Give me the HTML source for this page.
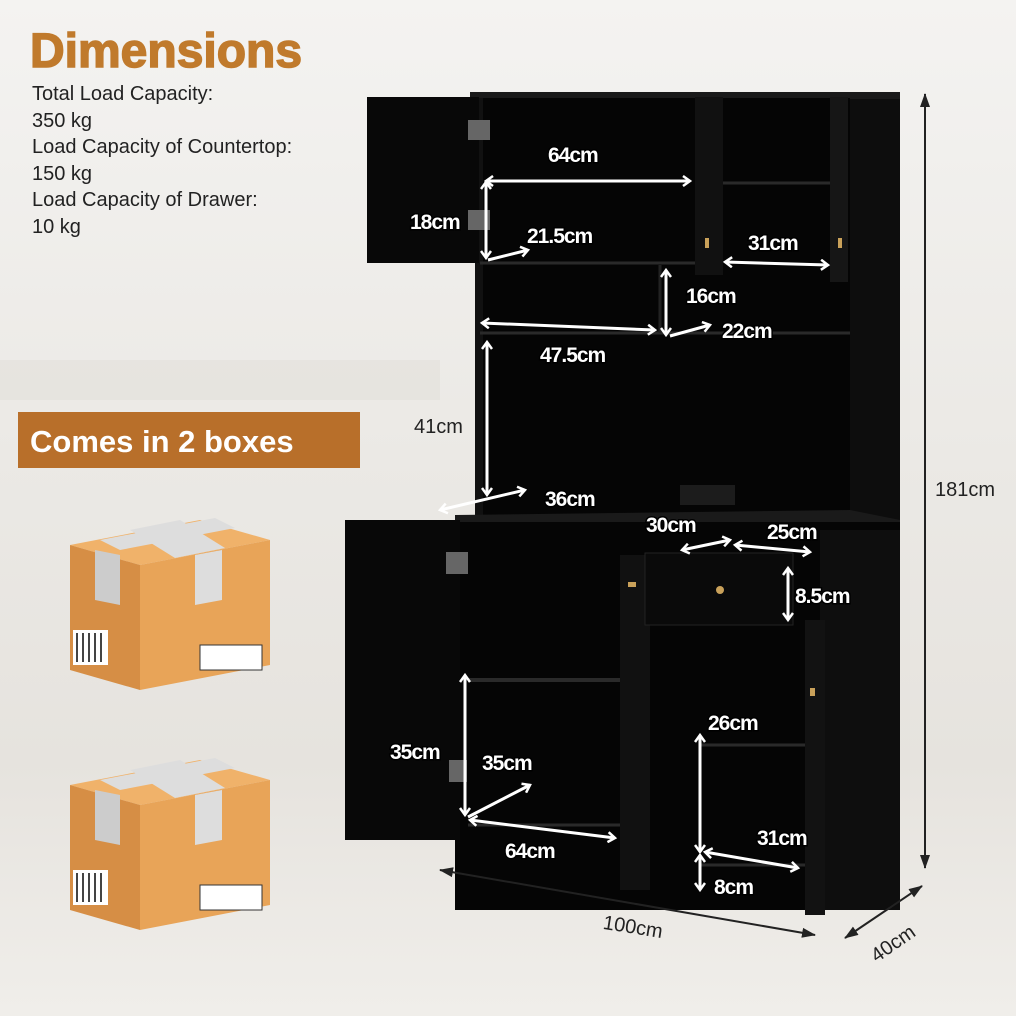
<!DOCTYPE html>
<html><head><meta charset="utf-8"><style>
html,body{margin:0;padding:0;background:#f3f2f0}
svg{display:block}
.l{font-family:"Liberation Sans",sans-serif;font-weight:bold;font-size:21px;fill:#fff;stroke:#000;stroke-width:3px;paint-order:stroke;letter-spacing:-1px}
.d{font-family:"Liberation Sans",sans-serif;font-size:20px;fill:#222}
.a{stroke:#fff;stroke-width:3;fill:none}
.k{stroke:#222;stroke-width:2;fill:none}
</style></head><body>
<svg width="1016" height="1016" viewBox="0 0 1016 1016">
<defs>
<linearGradient id="bg" x1="0" y1="0" x2="0" y2="1"><stop offset="0" stop-color="#f4f3f1"/><stop offset="0.45" stop-color="#ebe9e5"/><stop offset="0.75" stop-color="#e6e3de"/><stop offset="1" stop-color="#f0eeea"/></linearGradient>
<marker id="m" markerUnits="userSpaceOnUse" markerWidth="12" markerHeight="12" refX="9" refY="6" orient="auto-start-reverse"><path d="M2,1L9,6L2,11" fill="none" stroke="#fff" stroke-width="2.5"/></marker>
<marker id="mk" markerUnits="userSpaceOnUse" markerWidth="14" markerHeight="14" refX="13" refY="7" orient="auto-start-reverse"><path d="M0,2L14,7L0,12Z" fill="#222"/></marker>
</defs>
<rect width="1016" height="1016" fill="url(#bg)"/>
<rect x="0" y="360" width="440" height="40" fill="#e2dfda" opacity="0.6"/>
<!-- title -->
<text x="30" y="67" font-family="Liberation Sans,sans-serif" font-weight="bold" font-size="48" fill="#c07a2c" stroke="#c07a2c" stroke-width="1.5">Dimensions</text>
<text class="d" x="32" y="100">Total Load Capacity:</text>
<text class="d" x="32" y="127">350 kg</text>
<text class="d" x="32" y="153">Load Capacity of Countertop:</text>
<text class="d" x="32" y="180">150 kg</text>
<text class="d" x="32" y="206">Load Capacity of Drawer:</text>
<text class="d" x="32" y="233">10 kg</text>
<rect x="18" y="412" width="342" height="56" fill="#b86f2a"/>
<text x="30" y="452" font-family="Liberation Sans,sans-serif" font-weight="bold" font-size="31" fill="#fff">Comes in 2 boxes</text>
<!-- boxes -->
<g id="bx">
<polygon points="70,545 200,520 270,540 140,565" fill="#f0b26a"/>
<polygon points="70,545 140,565 140,690 70,670" fill="#d68e45"/>
<polygon points="140,565 270,540 270,665 140,690" fill="#e8a458"/>
<polygon points="100,540 215,518 235,528 120,550" fill="#ddd"/>
<polygon points="130,530 180,520 225,548 175,558" fill="#ddd"/>
<polygon points="195,555 222,550 222,600 195,605" fill="#ddd"/>
<polygon points="95,550 120,555 120,605 95,600" fill="#ccc"/>
<rect x="73" y="630" width="35" height="35" fill="#fff"/>
<g stroke="#444" stroke-width="2"><line x1="77" y1="633" x2="77" y2="662"/><line x1="83" y1="633" x2="83" y2="662"/><line x1="89" y1="633" x2="89" y2="662"/><line x1="95" y1="633" x2="95" y2="662"/><line x1="101" y1="633" x2="101" y2="662"/></g>
<rect x="200" y="645" width="62" height="25" fill="#fff" stroke="#333"/>
</g>
<use href="#bx" transform="translate(0,240)"/>
<!-- cabinet -->
<rect x="850" y="92" width="50" height="440" fill="#0d0d0d"/>
<rect x="470" y="92" width="430" height="7" fill="#1a1a1a"/>
<rect x="475" y="98" width="375" height="420" fill="#050505"/>
<rect x="475" y="98" width="8" height="420" fill="#111"/>
<line x1="480" y1="263" x2="695" y2="263" stroke="#2a2a2a" stroke-width="3"/>
<line x1="480" y1="333" x2="850" y2="333" stroke="#2a2a2a" stroke-width="3"/>
<line x1="660" y1="265" x2="660" y2="333" stroke="#222" stroke-width="3"/>
<line x1="722" y1="183" x2="832" y2="183" stroke="#2a2a2a" stroke-width="3"/>
<rect x="695" y="97" width="28" height="178" fill="#111"/>
<rect x="830" y="97" width="18" height="185" fill="#161616"/>
<rect x="705" y="238" width="4" height="10" fill="#c9a15a"/>
<rect x="838" y="238" width="4" height="10" fill="#c9a15a"/>
<rect x="367" y="97" width="112" height="166" fill="#080808"/>
<rect x="468" y="120" width="22" height="20" fill="#666"/>
<rect x="468" y="210" width="22" height="20" fill="#666"/>
<rect x="680" y="485" width="55" height="20" fill="#1c1c1c"/>
<!-- counter + lower -->
<polygon points="455,515 850,510 900,520 900,530 455,525" fill="#1a1a1a"/>
<rect x="455" y="522" width="445" height="388" fill="#050505"/>
<rect x="820" y="530" width="80" height="380" fill="#0e0e0e"/>
<line x1="468" y1="680" x2="620" y2="680" stroke="#2a2a2a" stroke-width="4"/>
<line x1="468" y1="825" x2="620" y2="825" stroke="#2a2a2a" stroke-width="3"/>
<line x1="700" y1="745" x2="805" y2="745" stroke="#2a2a2a" stroke-width="3"/>
<line x1="700" y1="865" x2="805" y2="865" stroke="#2a2a2a" stroke-width="3"/>
<rect x="345" y="520" width="115" height="320" fill="#080808"/>
<rect x="446" y="552" width="22" height="22" fill="#666"/>
<rect x="449" y="760" width="18" height="22" fill="#666"/>
<rect x="620" y="555" width="30" height="335" fill="#111"/>
<rect x="628" y="582" width="8" height="5" fill="#c9a15a"/>
<rect x="645" y="553" width="148" height="72" fill="#0a0a0a" stroke="#222"/>
<circle cx="720" cy="590" r="4" fill="#c9a15a"/>
<rect x="805" y="620" width="20" height="295" fill="#121212"/>
<rect x="810" y="688" width="5" height="8" fill="#c9a15a"/>
<!-- white dims -->
<g class="a">
<line x1="486" y1="181" x2="690" y2="181" marker-start="url(#m)" marker-end="url(#m)"/>
<line x1="486" y1="182" x2="486" y2="258" marker-start="url(#m)" marker-end="url(#m)"/>
<line x1="488" y1="260" x2="528" y2="250" marker-end="url(#m)"/>
<line x1="725" y1="262" x2="828" y2="265" marker-start="url(#m)" marker-end="url(#m)"/>
<line x1="666" y1="270" x2="666" y2="335" marker-start="url(#m)" marker-end="url(#m)"/>
<line x1="670" y1="336" x2="710" y2="325" marker-end="url(#m)"/>
<line x1="482" y1="323" x2="655" y2="330" marker-start="url(#m)" marker-end="url(#m)"/>
<line x1="487" y1="342" x2="487" y2="495" marker-start="url(#m)" marker-end="url(#m)"/>
<line x1="440" y1="510" x2="525" y2="490" marker-start="url(#m)" marker-end="url(#m)"/>
<line x1="682" y1="550" x2="730" y2="540" marker-start="url(#m)" marker-end="url(#m)"/>
<line x1="735" y1="545" x2="810" y2="552" marker-start="url(#m)" marker-end="url(#m)"/>
<line x1="788" y1="568" x2="788" y2="620" marker-start="url(#m)" marker-end="url(#m)"/>
<line x1="465" y1="675" x2="465" y2="815" marker-start="url(#m)" marker-end="url(#m)"/>
<line x1="468" y1="817" x2="530" y2="785" marker-end="url(#m)"/>
<line x1="470" y1="820" x2="615" y2="838" marker-start="url(#m)" marker-end="url(#m)"/>
<line x1="700" y1="735" x2="700" y2="852" marker-start="url(#m)" marker-end="url(#m)"/>
<line x1="700" y1="855" x2="700" y2="890" marker-start="url(#m)" marker-end="url(#m)"/>
<line x1="705" y1="852" x2="798" y2="868" marker-start="url(#m)" marker-end="url(#m)"/>
</g>
<text class="l" x="548" y="162">64cm</text>
<text class="l" x="410" y="229">18cm</text>
<text class="l" x="527" y="243">21.5cm</text>
<text class="l" x="748" y="250">31cm</text>
<text class="l" x="686" y="303">16cm</text>
<text class="l" x="722" y="338">22cm</text>
<text class="l" x="540" y="362">47.5cm</text>
<text class="d" x="414" y="433">41cm</text>
<text class="l" x="545" y="506">36cm</text>
<text class="l" x="646" y="532">30cm</text>
<text class="l" x="767" y="539">25cm</text>
<text class="l" x="795" y="603">8.5cm</text>
<text class="l" x="708" y="730">26cm</text>
<text class="l" x="390" y="759">35cm</text>
<text class="l" x="482" y="770">35cm</text>
<text class="l" x="757" y="845">31cm</text>
<text class="l" x="505" y="858">64cm</text>
<text class="l" x="714" y="894">8cm</text>
<!-- outer dims -->
<g class="k">
<line x1="925" y1="94" x2="925" y2="868" marker-start="url(#mk)" marker-end="url(#mk)"/>
<line x1="440" y1="870" x2="815" y2="935" marker-start="url(#mk)" marker-end="url(#mk)"/>
<line x1="845" y1="938" x2="922" y2="886" marker-start="url(#mk)" marker-end="url(#mk)"/>
</g>
<text class="d" x="935" y="496">181cm</text>
<text class="d" x="603" y="933" transform="rotate(9 630 926)">100cm</text>
<text class="d" x="868" y="955" transform="rotate(-35 885 945)">40cm</text>
</svg>
</body></html>
